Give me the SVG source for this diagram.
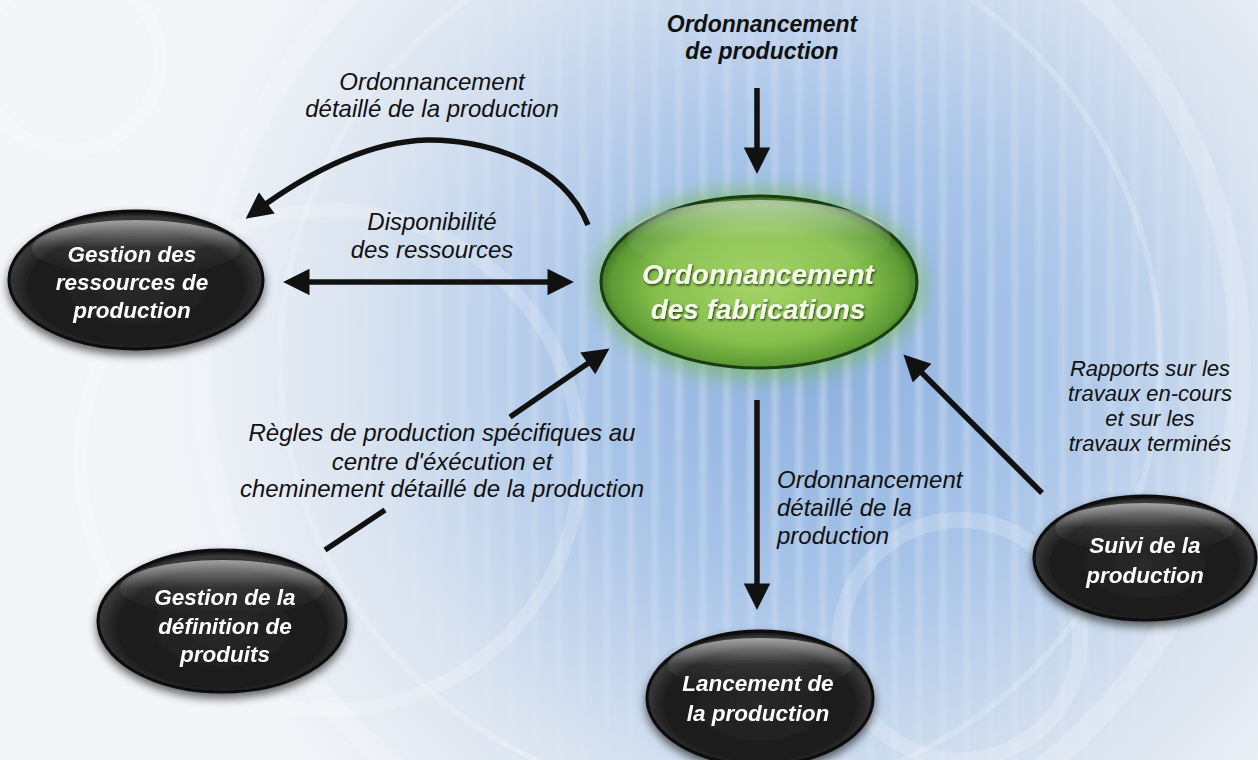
<svg xmlns="http://www.w3.org/2000/svg" width="1258" height="760" viewBox="0 0 1258 760">
<defs>
<style>
.lbl{font-family:"Liberation Sans",Arial,sans-serif;font-style:italic;font-size:24px;fill:#111;}
.lbls{font-family:"Liberation Sans",Arial,sans-serif;font-style:italic;font-size:22px;fill:#111;text-anchor:middle;}
.lblb{font-family:"Liberation Sans",Arial,sans-serif;font-style:italic;font-weight:bold;font-size:23px;fill:#111;}
.ntxt{font-family:"Liberation Sans",Arial,sans-serif;font-style:italic;font-weight:bold;font-size:22.5px;fill:#fff;text-anchor:middle;}
.gtxt{font-family:"Liberation Sans",Arial,sans-serif;font-style:italic;font-weight:bold;font-size:28px;fill:#f4fbe8;text-anchor:middle;}
.conn{fill:none;stroke:#111;stroke-width:5.5;stroke-linecap:butt;}
.mid{text-anchor:middle;}
.blk{fill:url(#gBlack);stroke:#0a0a0a;stroke-width:3;}
.shine{fill:url(#gShine);}
</style>
<radialGradient id="gBg" cx="820" cy="360" r="660" gradientUnits="userSpaceOnUse">
<stop offset="0" stop-color="#8cb0de"/>
<stop offset="0.35" stop-color="#a8c4e8"/>
<stop offset="0.7" stop-color="#d9e3f0"/>
<stop offset="1" stop-color="#f3f5f8"/>
</radialGradient>
<radialGradient id="gMask" cx="820" cy="360" r="560" gradientUnits="userSpaceOnUse">
<stop offset="0" stop-color="#fff"/>
<stop offset="0.6" stop-color="#777"/>
<stop offset="1" stop-color="#000"/>
</radialGradient>
<mask id="mStripes"><rect width="1258" height="760" fill="url(#gMask)"/></mask>
<linearGradient id="gStripe" x1="0" y1="0" x2="1" y2="0">
<stop offset="0" stop-color="#fff" stop-opacity="0"/>
<stop offset="0.5" stop-color="#fff" stop-opacity="0.32"/>
<stop offset="1" stop-color="#fff" stop-opacity="0"/>
</linearGradient>
<pattern id="pStripes" width="24" height="760" patternUnits="userSpaceOnUse">
<rect x="0" y="0" width="14" height="760" fill="url(#gStripe)"/>
</pattern>
<radialGradient id="gBlack" cx="0.5" cy="0.55" r="0.55">
<stop offset="0" stop-color="#2a2a2a"/>
<stop offset="0.75" stop-color="#1a1a1a"/>
<stop offset="0.92" stop-color="#3a3a3a"/>
<stop offset="1" stop-color="#050505"/>
</radialGradient>
<linearGradient id="gShine" x1="0" y1="0" x2="0" y2="1">
<stop offset="0" stop-color="#ffffff" stop-opacity="0.55"/>
<stop offset="0.5" stop-color="#ffffff" stop-opacity="0.08"/>
<stop offset="1" stop-color="#ffffff" stop-opacity="0"/>
</linearGradient>
<radialGradient id="gGreen" cx="0.5" cy="0.52" r="0.55">
<stop offset="0" stop-color="#a6d468"/>
<stop offset="0.6" stop-color="#86bf4c"/>
<stop offset="0.85" stop-color="#5c9a34"/>
<stop offset="1" stop-color="#1d4a16"/>
</radialGradient>
<filter id="fShadow" x="-20%" y="-20%" width="140%" height="150%">
<feGaussianBlur in="SourceAlpha" stdDeviation="5"/>
<feOffset dy="5" result="b"/>
<feComponentTransfer><feFuncA type="linear" slope="0.6"/></feComponentTransfer>
<feMerge><feMergeNode/><feMergeNode in="SourceGraphic"/></feMerge>
</filter>
<filter id="fGlow" x="-30%" y="-30%" width="160%" height="160%">
<feGaussianBlur stdDeviation="9"/>
</filter>
<filter id="fTxt" x="-10%" y="-30%" width="120%" height="160%">
<feDropShadow dx="1" dy="1.5" stdDeviation="1" flood-color="#000" flood-opacity="0.7"/>
</filter>
<marker id="mHead" viewBox="0 0 10 10" refX="7" refY="5" markerWidth="6.5" markerHeight="4.8" markerUnits="strokeWidth" orient="auto-start-reverse">
<path d="M0,0 L10,5 L0,10 z" fill="#111"/>
</marker>
</defs>

<!-- background -->
<rect width="1258" height="760" fill="url(#gBg)"/>
<rect width="1258" height="760" fill="url(#pStripes)" mask="url(#mStripes)"/>
<g fill="none" stroke="#ffffff" stroke-opacity="0.2">
<circle cx="720" cy="360" r="520" stroke-width="22"/>
<circle cx="720" cy="360" r="440" stroke-width="6"/>
<circle cx="330" cy="460" r="250" stroke-width="14"/>
<circle cx="960" cy="640" r="120" stroke-width="16"/>
<circle cx="70" cy="60" r="90" stroke-width="14"/>
</g>

<!-- connectors -->
<g id="connectors">
<path class="conn" d="M757,88 L757,166" marker-end="url(#mHead)"/>
<path class="conn" d="M757,400 L757,602" marker-end="url(#mHead)"/>
<path class="conn" d="M291,282 L566,282" marker-start="url(#mHead)" marker-end="url(#mHead)"/>
<path class="conn" d="M588,225 C562,160 480,139 427,140 C362,142 300,178 252,214" marker-end="url(#mHead)"/>
<path class="conn" d="M325,550 L385,510"/>
<path class="conn" d="M510,417 L603,353" marker-end="url(#mHead)"/>
<path class="conn" d="M1042,493 L909,360" marker-end="url(#mHead)"/>
</g>

<!-- connector labels -->
<g id="labels">
<text class="lblb mid" x="762" y="32">Ordonnancement</text>
<text class="lblb mid" x="762" y="59">de production</text>
<text class="lbl mid" x="432" y="90">Ordonnancement</text>
<text class="lbl mid" x="432" y="117">détaillé de la production</text>
<text class="lbl mid" x="432" y="230">Disponibilité</text>
<text class="lbl mid" x="432" y="258">des ressources</text>
<text class="lbl mid" x="442" y="441">Règles de production spécifiques au</text>
<text class="lbl mid" x="442" y="470">centre d'éxécution et</text>
<text class="lbl mid" x="442" y="497">cheminement détaillé de la production</text>
<text class="lbl" x="777" y="488">Ordonnancement</text>
<text class="lbl" x="777" y="516">détaillé de la</text>
<text class="lbl" x="777" y="544">production</text>
<text class="lbls" x="1150" y="376">Rapports sur les</text>
<text class="lbls" x="1150" y="401">travaux en-cours</text>
<text class="lbls" x="1150" y="426">et sur les</text>
<text class="lbls" x="1150" y="451">travaux terminés</text>
</g>

<!-- center node -->
<g id="node-ordonnancement-fabrications">
<ellipse cx="759" cy="284" rx="166" ry="96" fill="#6fb84a" opacity="0.55" filter="url(#fGlow)"/>
<ellipse cx="759" cy="282" rx="158" ry="86" fill="url(#gGreen)" stroke="#1b3d14" stroke-width="3"/>
<ellipse cx="759" cy="238" rx="132" ry="38" class="shine"/>
<text class="gtxt" x="758" y="284" filter="url(#fTxt)">Ordonnancement</text>
<text class="gtxt" x="758" y="319" filter="url(#fTxt)">des fabrications</text>
</g>

<g id="node-gestion-ressources" filter="url(#fShadow)">
<ellipse class="blk" cx="136" cy="280" rx="127" ry="69"/>
<ellipse class="shine" cx="136" cy="248" rx="104" ry="28"/>
<text class="ntxt" x="132" y="262">Gestion des</text>
<text class="ntxt" x="132" y="290">ressources de</text>
<text class="ntxt" x="132" y="318">production</text>
</g>

<g id="node-gestion-definition" filter="url(#fShadow)">
<ellipse class="blk" cx="222" cy="621" rx="124" ry="71"/>
<ellipse class="shine" cx="222" cy="588" rx="102" ry="28"/>
<text class="ntxt" x="225" y="605">Gestion de la</text>
<text class="ntxt" x="225" y="634">définition de</text>
<text class="ntxt" x="225" y="662">produits</text>
</g>

<g id="node-lancement" filter="url(#fShadow)">
<ellipse class="blk" cx="760" cy="698" rx="113" ry="67"/>
<ellipse class="shine" cx="760" cy="665" rx="92" ry="27"/>
<text class="ntxt" x="758" y="691">Lancement de</text>
<text class="ntxt" x="758" y="721">la production</text>
</g>

<g id="node-suivi" filter="url(#fShadow)">
<ellipse class="blk" cx="1145" cy="558" rx="111" ry="62"/>
<ellipse class="shine" cx="1145" cy="528" rx="90" ry="25"/>
<text class="ntxt" x="1145" y="553">Suivi de la</text>
<text class="ntxt" x="1145" y="583">production</text>
</g>
</svg>
